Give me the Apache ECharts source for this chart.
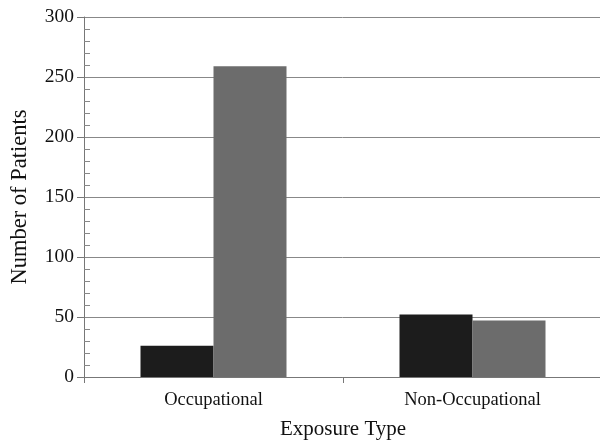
<!DOCTYPE html>
<html>
<head>
<meta charset="utf-8">
<script src="https://cdn.jsdelivr.net/npm/echarts@6/dist/echarts.min.js"></script>
<style>
  html, body { margin: 0; padding: 0; background: #fff; }
  #chart { width: 600px; height: 441px; }
</style>
</head>
<body>
<div id="chart"></div>
<script>
const categories = ["Occupational", "Non-Occupational"];
const darkValues = [26, 52];
const grayValues = [259, 47];
const yTicks = { min: 0, max: 300, interval: 50 };

const font = "Liberation Serif";
const chart = echarts.init(document.getElementById("chart"));

const option = {
  backgroundColor: "#fff",
  animation: false,
  grid: { left: 84, top: 17, bottom: 64, width: 518, outerBoundsMode: "none", containLabel: false },
  xAxis: {
    type: "category",
    data: categories,
    name: "Exposure Type",
    nameLocation: "middle",
    nameGap: 42,
    nameTextStyle: { fontFamily: font, fontSize: 21, color: "#111" },
    axisLine: { lineStyle: { color: "#777", width: 1 } },
    axisTick: { show: true, length: 6, lineStyle: { color: "#777" } },
    axisLabel: { fontFamily: font, fontSize: 18.5, color: "#111", margin: 14 }
  },
  yAxis: [
    {
      type: "value",
      min: yTicks.min,
      max: yTicks.max,
      interval: yTicks.interval,
      name: "Number of Patients",
      nameLocation: "middle",
      nameGap: 52,
      nameTextStyle: { fontFamily: font, fontSize: 22.5, color: "#111" },
      axisLine: { show: true, lineStyle: { color: "#777", width: 1 } },
      axisTick: { show: true, length: 7, lineStyle: { color: "#777" } },
      axisLabel: { fontFamily: font, fontSize: 19.5, color: "#111", margin: 10 },
      splitLine: { show: true, lineStyle: { color: "#888", width: 1 } }
    },
    {
      type: "value",
      position: "left",
      min: yTicks.min,
      max: yTicks.max,
      interval: yTicks.interval,
      axisLine: { show: false },
      axisTick: { show: false, inside: true },
      minorTick: { show: true, splitNumber: 5, length: 6, lineStyle: { color: "#888" } },
      axisLabel: { show: false },
      splitLine: { show: false }
    }
  ],
  series: [
    {
      name: "Series 1",
      type: "bar",
      data: darkValues,
      barWidth: 73,
      barGap: "0%",
      itemStyle: { color: "#1c1c1c" }
    },
    {
      name: "Series 2",
      type: "bar",
      data: grayValues,
      barWidth: 73,
      itemStyle: { color: "#6c6c6c" }
    }
  ]
};
chart.setOption(option);
</script>
</body>
</html>
